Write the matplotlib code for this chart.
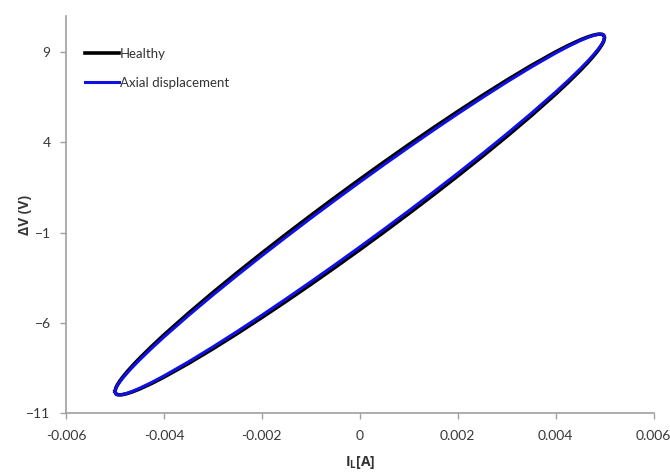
import numpy as np
import matplotlib.pyplot as plt

plt.rcParams["font.family"] = ["Lato", "DejaVu Sans"]
plt.rcParams["mathtext.fontset"] = "custom"
plt.rcParams["mathtext.rm"] = "Open Sans"
plt.rcParams["mathtext.bf"] = "Open Sans:bold"

# Load current samples (mA), shared by both branches of each loop
I_GRID_MA = [-5, -4.98, -4.95, -4.9, -4.85, -4.75, -4.65, -4.5, -4.25, -4, -3.5,
             -3, -2.5, -2, -1.5, -1, -0.5, 0, 0.5, 1, 1.5, 2, 2.5, 3, 3.5, 4,
             4.25, 4.5, 4.65, 4.75, 4.85, 4.9, 4.95, 4.98, 5]

# Healthy winding: voltage difference on upper / lower branch (V)
V_HEALTHY_UP = [-9.808, -9.595, -9.435, -9.224, -9.040, -8.709, -8.405, -7.977,
                -7.310, -6.676, -5.473, -4.325, -3.215, -2.136, -1.082, -0.051,
                0.959, 1.95, 2.921, 3.873, 4.803, 5.710, 6.593, 7.445, 8.258,
                9.016, 9.364, 9.677, 9.838, 9.927, 9.988, 10.000, 9.985, 9.943,
                9.808]
V_HEALTHY_LOW = [-9.808, -9.943, -9.985, -10.000, -9.988, -9.927, -9.838, -9.677,
                 -9.364, -9.016, -8.258, -7.445, -6.593, -5.710, -4.803, -3.873,
                 -2.921, -1.95, -0.959, 0.051, 1.082, 2.136, 3.215, 4.325, 5.473,
                 6.676, 7.310, 7.977, 8.405, 8.709, 9.040, 9.224, 9.435, 9.595,
                 9.808]

# Axial displacement fault
V_AXIAL_UP = [-9.837, -9.637, -9.485, -9.282, -9.104, -8.783, -8.487, -8.068,
              -7.413, -6.790, -5.600, -4.462, -3.360, -2.285, -1.234, -0.203,
              0.807, 1.80, 2.775, 3.731, 4.668, 5.585, 6.477, 7.342, 8.171,
              8.950, 9.309, 9.638, 9.810, 9.907, 9.980, 9.998, 9.993, 9.959,
              9.837]
V_AXIAL_LOW = [-9.837, -9.959, -9.993, -9.998, -9.980, -9.907, -9.810, -9.638,
               -9.309, -8.950, -8.171, -7.342, -6.477, -5.585, -4.668, -3.731,
               -2.775, -1.80, -0.807, 0.203, 1.234, 2.285, 3.360, 4.462, 5.600,
               6.790, 7.413, 8.068, 8.487, 8.783, 9.104, 9.282, 9.485, 9.637,
               9.837]

X_TICKS = [-0.006, -0.004, -0.002, 0, 0.002, 0.004, 0.006]
X_TICK_LABELS = ["-0.006", "-0.004", "-0.002", "0", "0.002", "0.004", "0.006"]
Y_TICKS = [-11, -6, -1, 4, 9]


def closed_loop(i_grid, v_up, v_low):
    """Upper branch left->right, then lower branch back right->left."""
    i = np.concatenate([i_grid, i_grid[::-1]])
    v = np.concatenate([v_up, v_low[::-1]])
    return i, v


fig = plt.figure(figsize=(6.7, 4.73), dpi=100)
ax = fig.add_axes([0.0985, 0.127, 0.877, 0.839])

i_amp = np.array(I_GRID_MA) / 1000.0
i_h, v_h = closed_loop(i_amp, np.array(V_HEALTHY_UP), np.array(V_HEALTHY_LOW))
i_a, v_a = closed_loop(i_amp, np.array(V_AXIAL_UP), np.array(V_AXIAL_LOW))

ax.plot(i_h, v_h, color="black", linewidth=2.6, solid_joinstyle="round", label="Healthy")
ax.plot(i_a, v_a, color="#1010e0", linewidth=2.2, solid_joinstyle="round",
        label="Axial displacement")

ax.set_xlim(-0.006, 0.006)
ax.set_ylim(-11, 11)
ax.set_xticks(X_TICKS)
ax.set_xticklabels(X_TICK_LABELS)
ax.set_yticks(Y_TICKS)

for side in ("top", "right"):
    ax.spines[side].set_visible(False)
for side in ("left", "bottom"):
    ax.spines[side].set_color("#a0a0a0")
    ax.spines[side].set_linewidth(1.2)
ax.tick_params(direction="out", length=4, width=1, color="#a0a0a0",
               labelsize=10, labelcolor="#383838")
ax.tick_params(axis="x", pad=8)
ax.tick_params(axis="y", pad=7)

ax.set_xlabel(r"$\mathbf{I_L[A]}$", fontsize=10, color="#333333")
ax.set_ylabel("ΔV (V)", fontsize=10, fontweight="bold", color="#333333",
              family=["Open Sans", "DejaVu Sans"])
ax.xaxis.set_label_coords(0.5, -0.125, transform=ax.transAxes)
ax.yaxis.set_label_coords(-0.07, 0.5, transform=ax.transAxes)
ax.xaxis.label.set_va("center")
ax.yaxis.label.set_va("center")

leg = ax.legend(loc="upper left", bbox_to_anchor=(0.012, 0.95), frameon=False,
                fontsize=9.5, handlelength=2.6, handletextpad=0.05, labelspacing=1.3)
for t in leg.get_texts():
    t.set_color("#333333")

fig.savefig("out.png", dpi=100)
